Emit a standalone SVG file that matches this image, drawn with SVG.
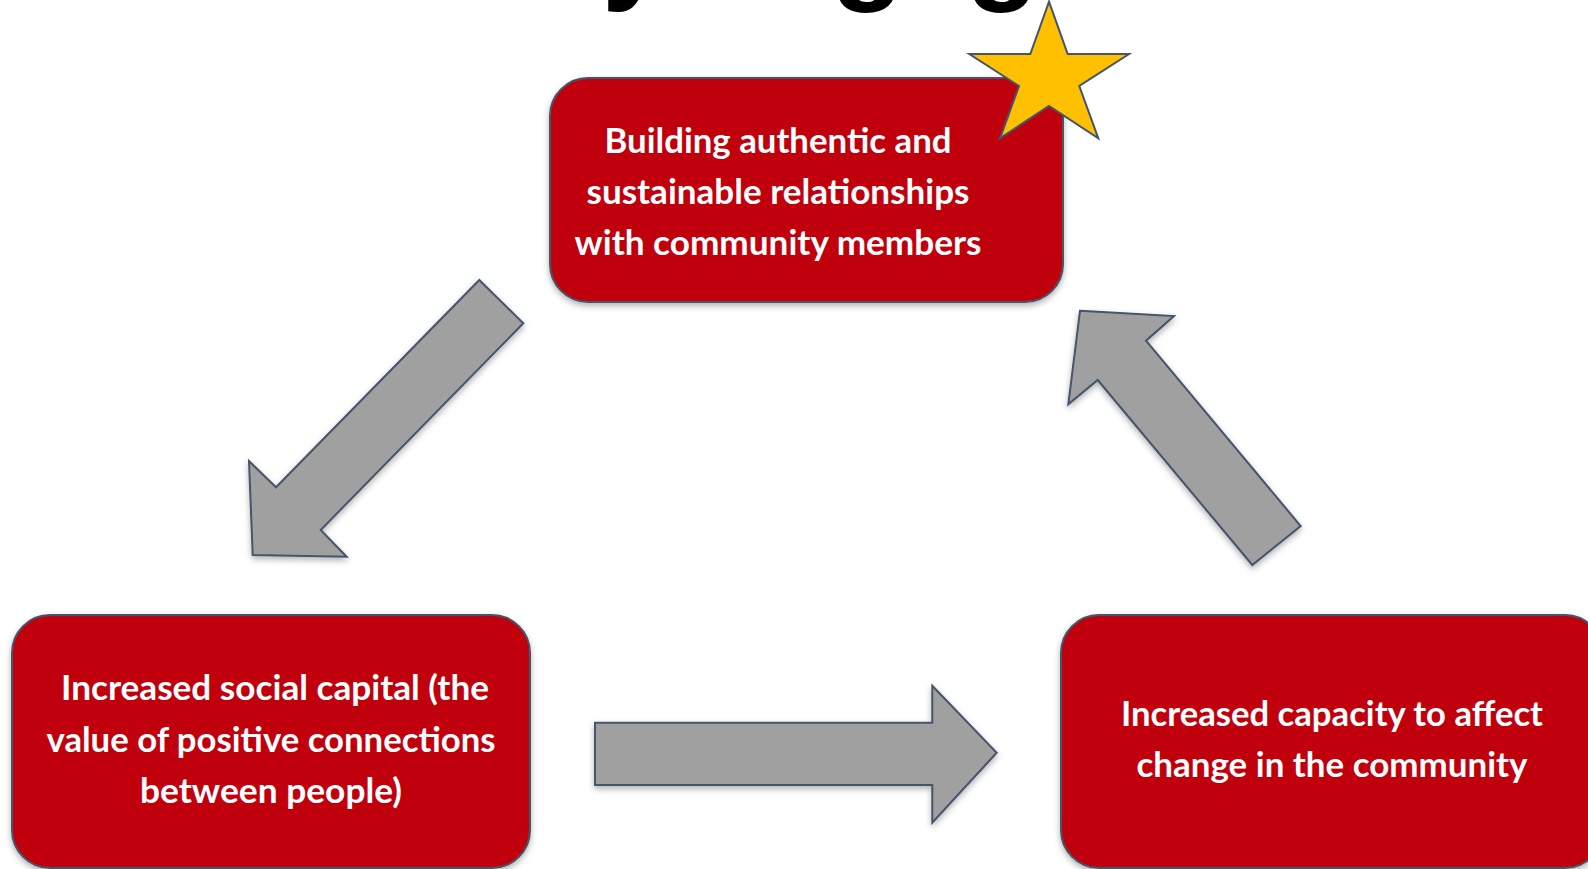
<svg xmlns="http://www.w3.org/2000/svg" width="1588" height="869" viewBox="0 0 1588 869">
<defs>
<filter id="sh" x="-10%" y="-10%" width="130%" height="130%">
<feDropShadow dx="0" dy="3" stdDeviation="3" flood-color="#000" flood-opacity="0.3"/>
</filter>
<style>
.box{fill:#C1050D;stroke:#44546A;stroke-width:2;filter:url(#sh)}
.arr{fill:#A0A0A0;stroke:#44546A;stroke-width:2;stroke-linejoin:miter;filter:url(#sh)}
.lbl{font-family:Lato,"Open Sans","Liberation Sans",sans-serif;font-weight:bold;font-size:34px;fill:#FFFFFF;text-anchor:middle}
.title{font-family:"Liberation Sans",Arial,sans-serif;font-weight:bold;font-size:120px;fill:#000}
</style>
</defs>
<rect width="1588" height="869" fill="#FFFFFF"/>
<g id="title-fragment">
<text class="title" x="602" y="-13">y</text>
<text class="title" x="831" y="-13">g</text>
<text class="title" x="966" y="-13">g</text>
</g>
<g id="connectors">
<polygon class="arr" points="479.3,280 523.3,323.3 320.7,530 346.7,556.7 252.7,555 249,461 276,487.3"/>
<polygon class="arr" points="595,722.7 932.3,722.7 932.3,685.7 996.7,752.7 932.3,822.7 932.3,785 595,785"/>
<polygon class="arr" points="1080,310.7 1174,316 1146,340.7 1300.7,526 1252.3,565 1097.7,380 1068.3,404.3"/>
</g>
<g id="node-top">
<rect class="box" x="550" y="78" width="513" height="224" rx="38" ry="38"/>
<text class="lbl" x="778" y="152.5" textLength="347" lengthAdjust="spacingAndGlyphs">Building authentic and</text>
<text class="lbl" x="778" y="203.5" textLength="383" lengthAdjust="spacingAndGlyphs">sustainable relationships</text>
<text class="lbl" x="778" y="254.5" textLength="407" lengthAdjust="spacingAndGlyphs">with community members</text>
</g>
<g id="star">
<polygon points="1049,1.7 1067.7,54 1129,54 1079.3,86 1098.3,138.3 1049,106 1000,138.3 1019,86 969.3,54 1030.3,54" fill="#FFC000" stroke="#44546A" stroke-width="2"/>
</g>
<g id="node-left">
<rect class="box" x="12" y="615" width="518" height="253" rx="38" ry="38"/>
<text class="lbl" x="275" y="700" textLength="428" lengthAdjust="spacingAndGlyphs">Increased social capital (the</text>
<text class="lbl" x="271" y="752" textLength="449" lengthAdjust="spacingAndGlyphs">value of positive connections</text>
<text class="lbl" x="271" y="803" textLength="262" lengthAdjust="spacingAndGlyphs">between people)</text>
</g>
<g id="node-right">
<rect class="box" x="1061" y="615" width="542" height="253" rx="38" ry="38"/>
<text class="lbl" x="1332" y="726" textLength="422" lengthAdjust="spacingAndGlyphs">Increased capacity to affect</text>
<text class="lbl" x="1332" y="777" textLength="391" lengthAdjust="spacingAndGlyphs">change in the community</text>
</g>
</svg>
